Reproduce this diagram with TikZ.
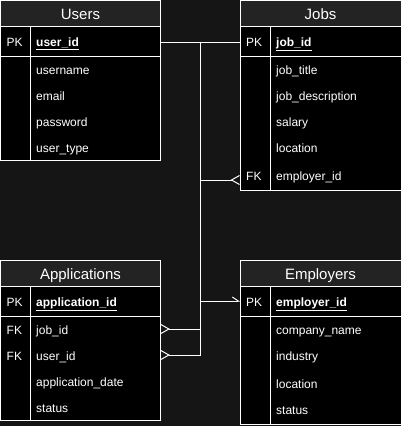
\documentclass[tikz,border=0pt]{standalone}
\usepackage{fontspec}
\setmainfont{Liberation Sans}
\usepackage{tikz}
\usetikzlibrary{positioning}
\usetikzlibrary{arrows.meta}
\usetikzlibrary{calc}

\definecolor{bgdark}{HTML}{151515}
\definecolor{headgray}{HTML}{232323}

\tikzset{
  tablebody/.style={draw=white, fill=black, line width=1pt},
  tablehead/.style={draw=white, fill=headgray, line width=1pt},
  tableline/.style={draw=white, line width=1pt},
  titletext/.style={text=white, inner sep=0pt, text height=11pt, text depth=0pt, font=\fontsize{15}{17}\selectfont},
  keytext/.style={anchor=west, text=white, inner xsep=6pt, inner ysep=0pt, text width=18pt, align=left, text height=8pt, text depth=0pt, font=\fontsize{12}{14}\selectfont},
  rowtext/.style={anchor=west, text=white, inner xsep=6pt, inner ysep=0pt, text width=118pt, align=left, text height=8pt, text depth=0pt, font=\fontsize{12}{14}\selectfont},
  link/.style={draw=white, line width=1pt},
  crowfoot/.tip={Straight Barb[reversed, length=8pt, width=9pt]},
  onetick/.tip={Straight Barb[left, length=6pt, width=8pt]}
}

\begin{document}
\begin{tikzpicture}[x=1pt,y=-1pt]
\useasboundingbox (0,0) rectangle (401,426);
\fill[bgdark] (0,0) rectangle (401,426);

% Users
\filldraw[tablebody] (0.5,0.5) rectangle (160,160);
\filldraw[tablehead] (0.5,0.5) rectangle (160,26);
\draw[tableline] (0.5,56) -- (160,56);
\draw[tableline] (30,26) -- (30,160);
\node[titletext] (users) at (80.5,13.5) {Users};
\node[keytext] (users-pk) at (0.5,42) {PK};
\node[rowtext] (users-id) at (30,42) {\underline{\textbf{user\_id}}};
\foreach \y/\n/\t in {70/uname/username,96/email/email,122/pwd/password,148/type/user\_type}
   \node[rowtext] (users-\n) at (30,\y) {\t};

% Jobs
\filldraw[tablebody] (240,0.5) rectangle (402,190);
\filldraw[tablehead] (240,0.5) rectangle (402,26);
\draw[tableline] (240,56) -- (402,56);
\draw[tableline] (270,26) -- (270,190);
\node[titletext] (jobs) at (320.5,13.5) {Jobs};
\node[keytext] (jobs-pk) at (240,42) {PK};
\node[keytext] (jobs-fk) at (240,176) {FK};
\node[rowtext] (jobs-id) at (270,42) {\underline{\textbf{job\_id}}};
\foreach \y/\n/\t in {70/title/job\_title,96/desc/job\_description,122/salary/salary,148/loc/location,176/emp/employer\_id}
   \node[rowtext] (jobs-\n) at (270,\y) {\t};

% Applications
\filldraw[tablebody] (0.5,260.5) rectangle (160,420);
\filldraw[tablehead] (0.5,260.5) rectangle (160,286);
\draw[tableline] (0.5,316) -- (160,316);
\draw[tableline] (30,286) -- (30,420);
\node[titletext] (apps) at (80.5,273.5) {Applications};
\node[keytext] (apps-pk) at (0.5,302) {PK};
\node[keytext] (apps-fk1) at (0.5,330) {FK};
\node[keytext] (apps-fk2) at (0.5,356) {FK};
\node[rowtext] (apps-id) at (30,302) {\underline{\textbf{application\_id}}};
\foreach \y/\n/\t in {330/job/job\_id,356/user/user\_id,382/date/application\_date,408/status/status}
   \node[rowtext] (apps-\n) at (30,\y) {\t};

% Employers
\filldraw[tablebody] (240,260.5) rectangle (402,424);
\filldraw[tablehead] (240,260.5) rectangle (402,286);
\draw[tableline] (240,316) -- (402,316);
\draw[tableline] (270,286) -- (270,424);
\node[titletext] (emps) at (320.5,273.5) {Employers};
\node[keytext] (emps-pk) at (240,302) {PK};
\node[rowtext] (emps-id) at (270,302) {\underline{\textbf{employer\_id}}};
\foreach \y/\n/\t in {330/company/company\_name,356/industry/industry,384/loc/location,410/status/status}
   \node[rowtext] (emps-\n) at (270,\y) {\t};

% connectors
\coordinate (bus) at (200.5,0);
\coordinate (jobs-fk-end) at ($(jobs-fk.west)+(0,4)$);
\coordinate (apps-job-end) at ($(apps-job.east)+(0,-1)$);
\coordinate (apps-user-end) at ($(apps-user.east)+(0,-1)$);
\coordinate (emps-pk-end) at ($(emps-pk.west)+(0,-1)$);
\draw[link] (users-id.east) -- (jobs-pk.west);
\draw[link,-crowfoot] (users-id.east) -- (users-id.east -| bus) -- (bus |- apps-user-end) -- (apps-user-end);
\draw[link,-crowfoot] (jobs-pk.west) -- (jobs-pk.west -| bus) -- (bus |- apps-job-end) -- (apps-job-end);
\draw[link,onetick-crowfoot] (emps-pk-end) -- (emps-pk-end -| bus) -- (bus |- jobs-fk-end) -- (jobs-fk-end);

\end{tikzpicture}
\end{document}
